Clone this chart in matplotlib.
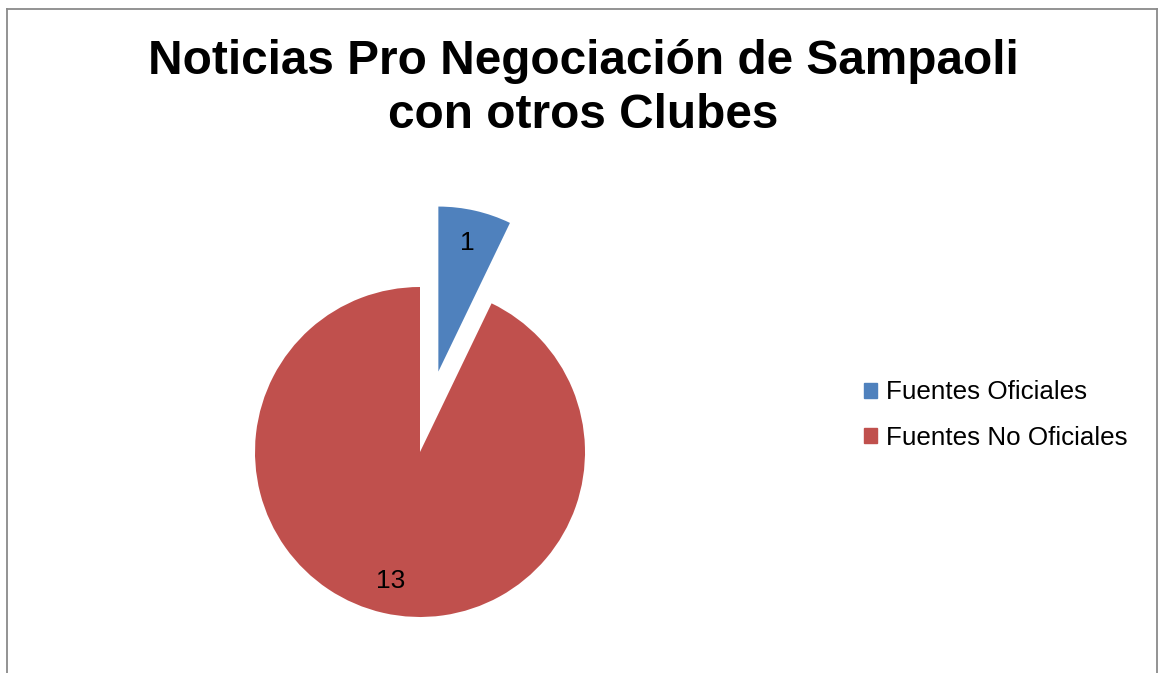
import matplotlib
matplotlib.use("Agg")
import matplotlib.pyplot as plt
from matplotlib.lines import Line2D

labels = ["Fuentes Oficiales", "Fuentes No Oficiales"]
valores = [1, 13]
colores = ["#4F81BD", "#C0504D"]
titulo = "Noticias Pro Negociación de Sampaoli\ncon otros Clubes"

plt.rcParams['font.family'] = ['Liberation Sans', 'DejaVu Sans']

W, H = 1158, 673
fig = plt.figure(figsize=(W / 100, H / 100), dpi=100)

# pie axes: center (420, 452) px, radius 165 px
r = 165
lim = 1.6
size = 2 * lim * r
cx, cy = 420, 452
ax = fig.add_axes([(cx - size / 2) / W, (H - cy - size / 2) / H, size / W, size / H])
total = sum(valores)
wedges, _, autotexts = ax.pie(
    valores, colors=colores, startangle=90, counterclock=False,
    explode=[0.5, 0], radius=1,
    autopct=lambda p: "%d" % round(p * total / 100.0),
    pctdistance=0.8, textprops={'fontsize': 19, 'color': 'black'},
    wedgeprops={'linewidth': 0})
ax.set_xlim(-lim, lim)
ax.set_ylim(-lim, lim)
ax.set_aspect('auto')
ax.axis('off')

fig.text(583 / W, 1 - 39 / H, titulo, ha='center', va='top',
         fontsize=34.4, fontweight='bold', linespacing=1.27)

handles = [plt.Rectangle((0, 0), 1, 1, color=c) for c in colores]
fig.legend(handles, labels, loc='upper left', bbox_to_anchor=(854 / W, 1 - 370 / H),
           frameon=False, fontsize=18.7, handlelength=0.5, handleheight=0.5,
           handletextpad=0.35, labelspacing=0.83, borderaxespad=0)

# chart border (left, top, right)
gris = "#8a8a8a"
fig.add_artist(Line2D([6.5 / W, 6.5 / W], [0, 1 - 9 / H], color=gris, lw=1.3, transform=fig.transFigure))
fig.add_artist(Line2D([6.5 / W, 1156.5 / W], [1 - 9 / H, 1 - 9 / H], color=gris, lw=1.3, transform=fig.transFigure))
fig.add_artist(Line2D([1156.5 / W, 1156.5 / W], [0, 1 - 9 / H], color=gris, lw=1.3, transform=fig.transFigure))

fig.savefig("out.png", dpi=100)
